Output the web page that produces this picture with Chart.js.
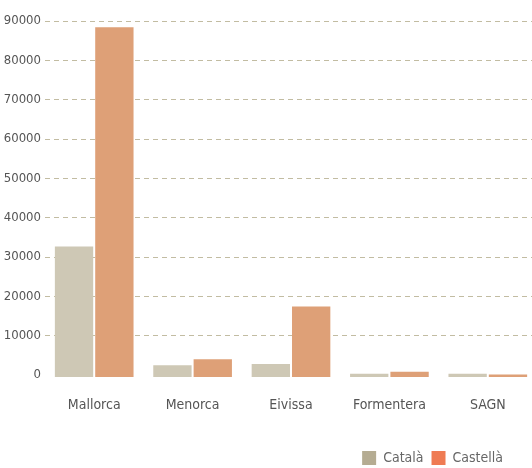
<!DOCTYPE html>
<html>
<head>
<meta charset="utf-8">
<script src="https://cdn.jsdelivr.net/npm/chart.js@4/dist/chart.umd.min.js"></script>
<style>
  html, body { margin: 0; padding: 0; background: #fff; overflow: hidden; }
  #wrap { width: 537px; height: 468px; }
</style>
</head>
<body>
<div id="wrap"><canvas id="grafic"></canvas></div>
<script>
const illes = ["Mallorca", "Menorca", "Eivissa", "Formentera", "SAGN"];
const catala = [32700, 2500, 2800, 300, 300];
const castella = [88400, 4000, 17400, 800, 100];
const yTicks = [0, 10000, 20000, 30000, 40000, 50000, 60000, 70000, 80000, 90000];

const lletra = "'Liberation Sans Narrow', 'DejaVu Sans Condensed', sans-serif";

// llegenda una mica cap a l'esquerra i avall, com a l'original
const moureLlegenda = {
    id: "moureLlegenda",
    afterLayout(chart) {
        const l = chart.legend;
        l.right -= 26;
        l.top += 7;
        l.bottom += 7;
    }
};

new Chart(document.getElementById("grafic"), {
    type: "bar",
    data: {
        labels: illes,
        datasets: [
            {
                label: "Català",
                data: catala,
                backgroundColor: "#cec8b5",
                legendColor: "#b5ac92",
                base: -500,
                clip: false
            },
            {
                label: "Castellà",
                data: castella,
                backgroundColor: "#dea077",
                legendColor: "#ef7b53",
                base: -500,
                clip: false
            }
        ]
    },
    options: {
        responsive: true,
        maintainAspectRatio: false,
        animation: false,
        categoryPercentage: 0.82,
        barPercentage: 0.95,
        layout: { padding: { top: 21, left: 0, right: 0, bottom: 0 } },
        plugins: {
            tooltip: { enabled: false },
            legend: {
                position: "bottom",
                align: "end",
                labels: {
                    boxWidth: 14,
                    boxHeight: 14,
                    padding: 8,
                    color: "#666",
                    font: { family: lletra, size: 14 },
                    generateLabels(chart) {
                        return chart.data.datasets.map((ds, i) => ({
                            text: ds.label,
                            fillStyle: ds.legendColor,
                            strokeStyle: ds.legendColor,
                            lineWidth: 0,
                            fontColor: "#666",
                            datasetIndex: i
                        }));
                    }
                }
            }
        },
        scales: {
            x: {
                grid: { display: false },
                border: { display: false },
                ticks: {
                    color: "#555",
                    padding: 14,
                    font: { family: lletra, size: 14 }
                },
                afterFit(scale) { scale.height = 61; }
            },
            y: {
                min: 0,
                max: 90000,
                afterBuildTicks(scale) { scale.ticks = yTicks.map(v => ({ value: v })); },
                grid: {
                    color: ctx => ctx.tick && ctx.tick.value === 0 ? "rgba(0,0,0,0)" : "#c2bca2",
                    drawTicks: false,
                    lineWidth: 1
                },
                border: { display: false, dash: [5, 4] },
                ticks: {
                    color: "#555",
                    padding: 4,
                    font: { family: lletra, size: 13 },
                    callback: v => String(v)
                },
                afterFit(scale) { scale.width = 45; }
            }
        }
    },
    plugins: [moureLlegenda]
});
</script>
</body>
</html>
